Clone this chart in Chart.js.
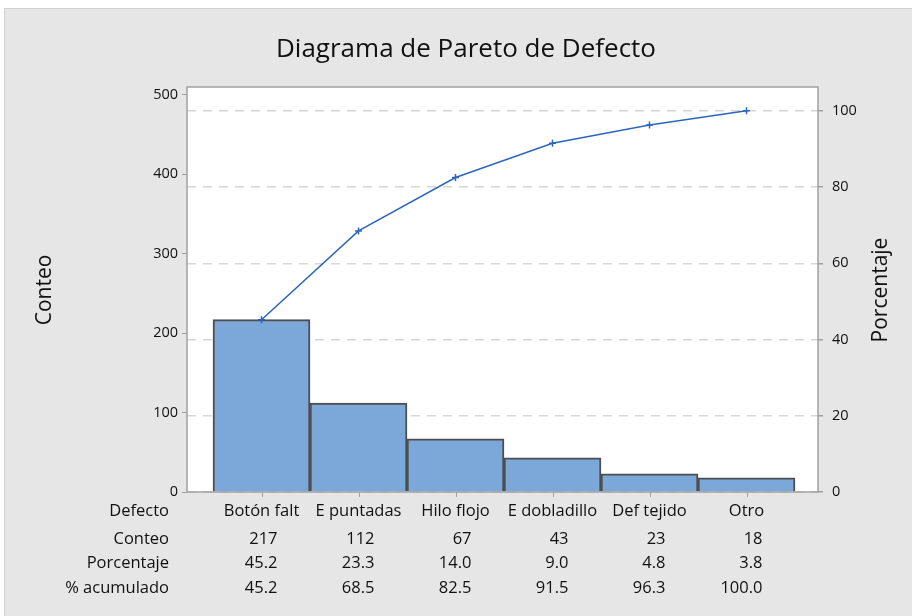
<!DOCTYPE html>
<html>
<head>
<meta charset="utf-8">
<script src="https://cdn.jsdelivr.net/npm/chart.js@4.4.1/dist/chart.umd.min.js"></script>
<style>
  html, body { margin: 0; padding: 0; background: #fff; }
  #wrap { width: 912px; height: 616px; }
</style>
</head>
<body>
<div id="wrap"><canvas id="pareto" width="912" height="616"></canvas></div>
<script>
const categories = ["Botón falt", "E puntadas", "Hilo flojo", "E dobladillo", "Def tejido", "Otro"];
const counts = [217, 112, 67, 43, 23, 18];
const percents = ["45.2", "23.3", "14.0", "9.0", "4.8", "3.8"];
const cumPercents = [45.2, 68.5, 82.5, 91.5, 96.3, 100.0];
const cumLabels = ["45.2", "68.5", "82.5", "91.5", "96.3", "100.0"];
const rowNames = ["Defecto", "Conteo", "Porcentaje", "% acumulado"];
const countTicks = [0, 100, 200, 300, 400, 500];
const pctTicks = [0, 20, 40, 60, 80, 100];

const FONT = "'Open Sans', 'Noto Sans', sans-serif";
const countMax = 510;
const total = counts.reduce((a, b) => a + b, 0);
const pctMax = countMax / total * 100;

const framePlugin = {
  id: "frame",
  beforeDraw(chart) {
    const ctx = chart.ctx, a = chart.chartArea;
    ctx.save();
    ctx.fillStyle = "#ffffff";
    ctx.fillRect(0, 0, chart.width, chart.height);
    ctx.fillStyle = "#e6e6e6";
    ctx.fillRect(4, 8, chart.width - 4, chart.height - 8);
    ctx.strokeStyle = "#d2d2d2";
    ctx.lineWidth = 1;
    ctx.strokeRect(4.5, 8.5, chart.width, chart.height);
    ctx.fillStyle = "#ffffff";
    ctx.fillRect(a.left, a.top, a.right - a.left, a.bottom - a.top);
    ctx.restore();
  },
  afterDraw(chart) {
    const ctx = chart.ctx, a = chart.chartArea;
    const xs = chart.scales.x;
    ctx.save();
    ctx.strokeStyle = "#a0a0a0";
    ctx.lineWidth = 1.5;
    ctx.strokeRect(a.left, a.top, a.right - a.left, a.bottom - a.top);
    // category tick marks under the axis
    ctx.beginPath();
    categories.forEach((c, i) => {
      const px = Math.round(xs.getPixelForValue(i)) + 0.5;
      ctx.moveTo(px, a.bottom);
      ctx.lineTo(px, a.bottom + 5);
    });
    ctx.lineWidth = 1;
    ctx.stroke();

    ctx.fillStyle = "#111111";
    ctx.font = "26px " + FONT;
    ctx.textAlign = "center";
    ctx.textBaseline = "middle";
    ctx.fillText("Diagrama de Pareto de Defecto", 466, 50);

    ctx.font = "21px " + FONT;
    ctx.save();
    ctx.translate(45, 290);
    ctx.rotate(-Math.PI / 2);
    ctx.fillText("Conteo", 0, 0);
    ctx.restore();
    ctx.save();
    ctx.translate(881, 290);
    ctx.rotate(-Math.PI / 2);
    ctx.fillText("Porcentaje", 0, 0);
    ctx.restore();

    const rowsY = [511, 539, 563, 588];
    ctx.font = "16.5px " + FONT;
    ctx.textAlign = "right";
    rowNames.forEach((n, r) => ctx.fillText(n, 169, rowsY[r]));

    const rows = [counts.map(String), percents, cumLabels];
    categories.forEach((c, i) => {
      const px = xs.getPixelForValue(i);
      ctx.textAlign = "center";
      ctx.fillText(c, px, rowsY[0]);
      ctx.textAlign = "right";
      rows.forEach((vals, r) => ctx.fillText(vals[i], px + 16, rowsY[r + 1]));
    });
    ctx.restore();
  }
};

new Chart(document.getElementById("pareto"), {
  type: "bar",
  data: {
    datasets: [{
      type: "line",
      label: "% acumulado",
      data: cumPercents.map((v, i) => ({ x: i, y: v })),
      yAxisID: "y1",
      borderColor: "#2c66bb",
      borderWidth: 1.5,
      pointStyle: "cross",
      pointRadius: 3.5,
      pointBorderWidth: 1.5,
      pointBorderColor: "#2c66bb",
      tension: 0,
      order: 0
    }, {
      label: "Conteo",
      data: counts.map((v, i) => ({ x: i, y: v })),
      yAxisID: "y",
      backgroundColor: "#7ca7d9",
      borderColor: "#4e4e4e",
      borderWidth: 2,
      barPercentage: 1,
      categoryPercentage: 1,
      order: 1
    }]
  },
  plugins: [framePlugin],
  options: {
    responsive: false,
    animation: false,
    layout: { padding: { top: 87, left: 0, right: 0, bottom: 0 } },
    plugins: {
      legend: { display: false },
      tooltip: { enabled: false },
      title: { display: false }
    },
    scales: {
      x: {
        type: "linear",
        offset: false,
        min: -0.5 - 26 / 97,
        max: 5.5 + 23 / 97,
        afterFit(s) { s.height = 124; },
        afterBuildTicks(s) { s.ticks = categories.map((c, i) => ({ value: i })); },
        ticks: { display: false },
        grid: { display: false },
        border: { display: false }
      },
      y: {
        position: "left",
        min: 0,
        max: countMax,
        afterFit(s) { s.width = 187; },
        afterBuildTicks(s) { s.ticks = countTicks.map(v => ({ value: v })); },
        ticks: { padding: 4, color: "#111111", font: { family: FONT, size: 14.5 } },
        grid: { drawOnChartArea: false, tickLength: 5, color: "#a0a0a0" },
        border: { display: false }
      },
      y1: {
        position: "right",
        min: 0,
        max: pctMax,
        afterFit(s) { s.width = 94; },
        afterBuildTicks(s) { s.ticks = pctTicks.map(v => ({ value: v })); },
        ticks: { padding: 9, color: "#111111", font: { family: FONT, size: 14.5 } },
        grid: { drawOnChartArea: true, tickLength: 5, color: "#d6d6d6", lineWidth: 1.5, tickColor: "#a0a0a0", tickBorderDash: [] },
        border: { display: false, dash: [9, 7] }
      }
    }
  }
});
</script>
</body>
</html>
